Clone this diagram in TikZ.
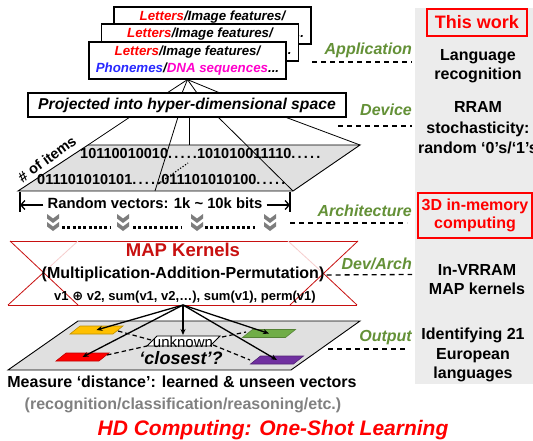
\documentclass[tikz,border=0pt]{standalone}
\usepackage{fontspec}
\setmainfont{Liberation Sans}
\newfontfamily\symfont{DejaVu Sans}
\usetikzlibrary{arrows.meta}

\definecolor{lblgreen}{RGB}{100,145,55}
\definecolor{mapred}{RGB}{200,16,16}
\definecolor{mapfade}{RGB}{246,205,205}
\definecolor{hdred}{RGB}{255,0,0}
\definecolor{panelgray}{RGB}{236,236,236}
\definecolor{planegray}{RGB}{224,224,224}
\definecolor{chevgray}{RGB}{125,125,125}
\definecolor{phblue}{RGB}{40,40,255}
\definecolor{dnamag}{RGB}{255,0,204}
\definecolor{subgray}{RGB}{128,128,128}
\definecolor{patchyel}{RGB}{255,192,0}
\definecolor{patchred}{RGB}{255,0,0}
\definecolor{patchgrn}{RGB}{112,173,71}
\definecolor{patchpur}{RGB}{112,48,160}

\newcommand\fsz[2]{\fontsize{#1}{#2}\selectfont}
\newcommand\itemtext{\textcolor{hdred}{Letters}/Image features/\\
  \textcolor{phblue}{Phonemes}/\textcolor{dnamag}{DNA sequences}...}
\newcommand\dd{.\kern2.2pt.\kern2.2pt.\kern2.2pt.\kern2.2pt.}
% small parallelogram patch centred on a named coordinate
\newcommand\hdpatch[4]{%
  \coordinate (#1) at (#3,#4);
  \filldraw[fill=#2, draw=#2!75!black, line width=0.6pt, shift={(#3,#4)}]
    (-16.5,-4) -- (26.5,-4) -- (16.5,4) -- (-26.5,4) -- cycle;}

\begin{document}
\begin{tikzpicture}[x=1pt, y=-1pt,
  lbl/.style={anchor=base east, inner sep=0, text=lblgreen,
    font=\fsz{16}{19}\bfseries\itshape},
  side/.style={anchor=base, inner sep=0, align=center,
    font=\fsz{16}{19.5}\bfseries},
  guide/.style={line width=1.3pt, dash pattern=on 5pt off 4pt},
  itembox/.style={draw, line width=1.2pt, fill=white, minimum width=197pt,
    minimum height=37pt, inner sep=0, align=center,
    font=\fsz{13.3}{17}\bfseries\itshape},
  fan/.style={line width=0.8pt},
  txt/.style={inner sep=0, text height=0.72em, text depth=0pt},
  conn/.style={line width=1.3pt, -{Stealth[length=6pt,width=5pt]}},
  dsh/.style={line width=1.2pt, dash pattern=on 4.5pt off 3pt},
  redline/.style={mapred, line width=0.8pt},
  fadeline/.style={mapfade, line width=0.8pt},
]
\useasboundingbox (0,0) rectangle (533,441);
\fill[white] (0,0) rectangle (533,441);

% ---------- right-hand panel ----------
\fill[panelgray] (415,8) rectangle (533,384);
\node[draw=hdred, line width=1.5pt, text=hdred, font=\fsz{18}{20}\bfseries,
  minimum width=100pt, minimum height=27pt, inner sep=0] (thiswork) at (477,22.5) {This work};
% multi-line nodes: the base anchor sits on the last line
\node[side] (sapp) at (478,79.8) {Language\\recognition};
\node[side, font=\fsz{16}{20.5}\bfseries] (sdev) at (478,153.8) {RRAM\\stochasticity:\\random ‘0’s/‘1’s};
\node[draw=hdred, line width=1.5pt, text=hdred, align=center, font=\fsz{16}{18}\bfseries,
  minimum width=114pt, minimum height=45pt, inner sep=0] (sarch) at (475,215.5) {3D in-memory\\computing};
\node[side] (sdevarch) at (477,294.8) {In-VRRAM\\MAP kernels};
\node[side] (sout) at (473,378.8) {Identifying 21\\European\\languages};

% ---------- level labels with guide lines ----------
\node[lbl] (lapp) at (412,55) {Application};
\node[lbl] (ldev) at (412,116) {Device};
\node[lbl] (larch) at (412,216) {Architecture};
\node[lbl] (ldevarch) at (412,269.5) {Dev/Arch};
\node[lbl] (lout) at (412,341) {Output};

\coordinate (gA1) at (312,62);  \coordinate (gA2) at (412,62);
\coordinate (gB1) at (338,126); \coordinate (gB2) at (412,126);
\coordinate (gC1) at (290,223); \coordinate (gC2) at (407,223);
\coordinate (gD2) at (412,274.5);
\coordinate (gE1) at (328,349); \coordinate (gE2) at (406,349);
\draw[guide] (gA1) -- (gA2);
\draw[guide] (gB1) -- (gB2);
\draw[guide] (gC1) -- (gC2);
\draw[guide] (gE1) -- (gE2);

% ---------- stacked input items ----------
\node[itembox] (item1) at (212.5,25.5) {\itemtext};
\node[itembox] (item2) at (200,42.5) {\itemtext};
\node[itembox] (item3) at (187.5,60.5) {\itemtext};

\node[draw, line width=1.1pt, minimum width=318pt, minimum height=24pt, inner sep=0,
  font=\fsz{15.7}{18}\bfseries\itshape] (proj) at (187,105) {Projected into hyper-dimensional space};

\foreach \x [count=\i] in {167,182,197,220} {
  \coordinate (pt\i) at (\x,93);
  \draw[fan] (item3.south) -- (pt\i);
}

% ---------- hyper-dimensional vector plane ----------
\coordinate (pTL) at (88,145);
\coordinate (pTR) at (360,145);
\coordinate (pBR) at (293,191);
\coordinate (pBL) at (18,191);
\filldraw[fill=planegray, line width=0.9pt] (pTL) -- (pTR) -- (pBR) -- (pBL) -- cycle;

\coordinate (pb1) at (130,117); \coordinate (pb2) at (178,117);
\coordinate (pb3) at (189,117); \coordinate (pb4) at (218,117);
\coordinate (pb5) at (285,117);
\coordinate (pM) at (155,191);  \coordinate (pT3) at (189,145);
\draw[fan] (pb1) -- (pTL);
\draw[fan] (pb2) -- (pM);
\draw[fan] (pb3) -- (pT3);
\draw[fan] (pb4) -- (pBR);
\draw[fan] (pb5) -- (pTR);
\draw[line width=1.2pt, dash pattern=on 1.2pt off 1.8pt] (158,184) -- (188,163);

\node[txt, anchor=west, font=\fsz{14.5}{17}\bfseries] (row1) at (80,155) {10110010010\dd101010011110\dd};
\node[txt, anchor=west, font=\fsz{14.5}{17}\bfseries] (row2) at (37,181) {011101010101\dd011101010100\dd};
\node[rotate=36, inner sep=0, font=\fsz{14.5}{17}\bfseries] (nitems) at (47,159) {\# of items};

% ---------- vector length dimension ----------
\node[txt, inner xsep=4pt, font=\fsz{14.8}{17}\bfseries] (rv) at (155,205) {Random vectors: 1k \textasciitilde{} 10k bits};
\coordinate (tL1) at (20,192); \coordinate (tL2) at (20,212);
\coordinate (tR1) at (290,192); \coordinate (tR2) at (290,212);
\coordinate (aL) at (20,205); \coordinate (aR) at (290,205);
\draw[line width=1.5pt] (tL1) -- (tL2);
\draw[line width=1.5pt] (tR1) -- (tR2);
\draw[line width=1.3pt, -{Straight Barb[length=4pt,width=9pt]}] (rv.west) -- (aL);
\draw[line width=1.3pt, -{Straight Barb[length=4pt,width=9pt]}] (rv.east) -- (aR);

% ---------- chevrons and dotted links ----------
\foreach \cx in {53,123,197,270} {
  \foreach \cy in {214,222} {
    \fill[chevgray] (\cx-6,\cy) -- (\cx,\cy+4.5) -- (\cx+6,\cy) -- (\cx+6,\cy+4.5)
      -- (\cx,\cy+9) -- (\cx-6,\cy+4.5) -- cycle;
  }
}
\foreach \a/\b in {62/110,133/182,205/255}
  \draw[line width=3pt, dash pattern=on 3pt off 2.3pt] (\a,227) -- (\b,227);

% ---------- MAP kernel block ----------
\draw[redline] (10,241) -- (358,241);
\draw[redline] (8,305) -- (357,305);
\draw[redline] (10,241) -- (78,305);
\draw[fadeline] (78,241) -- (43,273);
\draw[redline] (43,273) -- (8,305);
\draw[redline] (358,241) -- (290,305);
\draw[fadeline] (288,241) -- (323,273);
\draw[redline] (323,273) -- (357,305);

\node[txt, text=mapred, font=\fsz{18.5}{20}\bfseries] (mapk) at (183,253) {MAP Kernels};
\node[txt, font=\fsz{16}{18}\bfseries] (mapf) at (183,275) {(Multiplication-Addition-Permutation)};
\node[txt, font=\fsz{13}{15}\bfseries] (ops) at (185,297) {v1 {\symfont\bfseries ⊕} v2, sum(v1, v2,…), sum(v1), perm(v1)};
\draw[guide] ([xshift=2pt]mapf.east) -- (gD2);

% ---------- output similarity plane ----------
\coordinate (oTL) at (78,321);
\coordinate (oTR) at (360,321);
\coordinate (oBR) at (291,370);
\coordinate (oBL) at (8,370);
\filldraw[fill=planegray, line width=0.9pt] (oTL) -- (oTR) -- (oBR) -- (oBL) -- cycle;

\hdpatch{cyel}{patchyel}{96.5}{330}
\hdpatch{cred}{patchred}{82.5}{357}
\hdpatch{cgrn}{patchgrn}{269}{333.5}
\hdpatch{cpur}{patchpur}{277}{360}

\filldraw[fill=white, line width=0.8pt] (157,336) -- (220,336) -- (210,346) -- (147,346) -- cycle;
\node[anchor=base, inner sep=0, font=\fsz{15}{17}] (unk) at (183,347) {unknown};
\coordinate (unkN) at (183,335);

\coordinate (yE) at (118,331);  \coordinate (uW1) at (151,340);
\coordinate (rE) at (107,355);  \coordinate (uW2) at (147,346);
\coordinate (uE1) at (213,345); \coordinate (pW) at (250,360);
\coordinate (uE2) at (222,337); \coordinate (gW) at (246,332);
\draw[dsh] (yE) -- (uW1);
\draw[dsh] (rE) -- (uW2);
\draw[dsh] (uE1) -- (pW);
\draw[dsh] (uE2) -- (gW);

\coordinate (mapb) at (183,305);
\draw[conn] (mapb) -- (cyel);
\draw[conn] (mapb) -- (cred);
\draw[conn] (mapb) -- (unkN);
\draw[conn] (mapb) -- (cgrn);
\draw[conn] (mapb) -- (cpur);

\node[anchor=base, inner sep=0, font=\fsz{18}{20}\bfseries\itshape] (closest) at (181,364) {‘closest’?};

% ---------- captions ----------
\node[anchor=base, inner sep=0, font=\fsz{16}{18}\bfseries] (measure) at (182,387.8) {Measure ‘distance’: learned \& unseen vectors};
\node[anchor=base, inner sep=0, text=subgray, font=\fsz{16}{18}\bfseries] (tasks) at (183,409.8) {(recognition/classification/reasoning/etc.)};
\node[anchor=base, inner sep=0, text=hdred, font=\fsz{21}{24}\bfseries\itshape] (title) at (273,435) {HD Computing: One-Shot Learning};
\end{tikzpicture}
\end{document}
